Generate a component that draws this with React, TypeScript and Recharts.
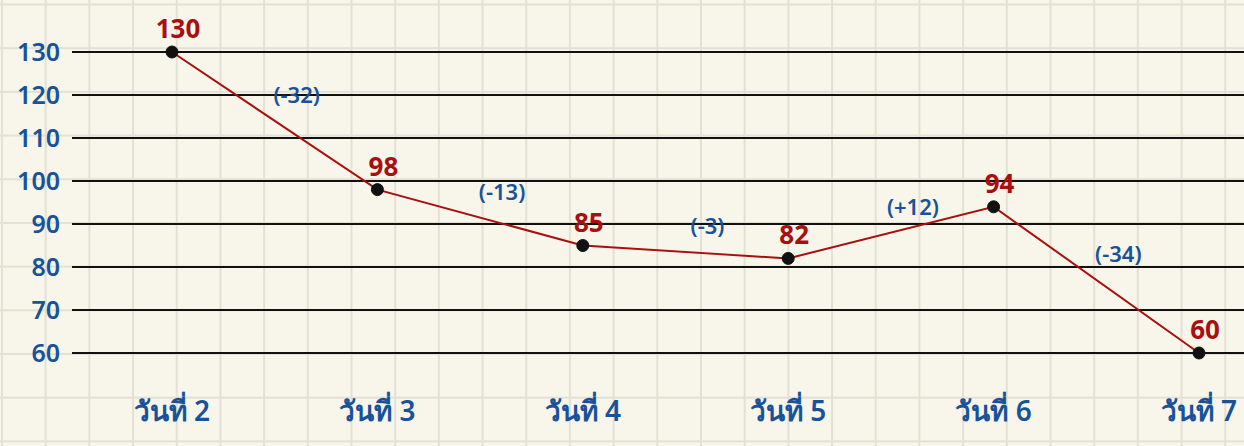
import React from 'react';
import { LineChart, Line, XAxis, YAxis, CartesianGrid, LabelList } from 'recharts';

const days = ['วันที่ 2', 'วันที่ 3', 'วันที่ 4', 'วันที่ 5', 'วันที่ 6', 'วันที่ 7'];
const counts = [130, 98, 85, 82, 94, 60];
const changes = ['', '(-32)', '(-13)', '(-3)', '(+12)', '(-34)'];
const yTicks = [60, 70, 80, 90, 100, 110, 120, 130];

const data = days.map((day, i) => ({ day, count: counts[i], change: changes[i] }));

const RED = '#a80f0f';
const BLUE = '#17529a';
const FONT = '"Noto Sans", "Open Sans", sans-serif';

// point positions are collected while the labels render, so each change label
// can sit between its point and the previous one
const pts: { x: number; y: number }[] = [];

const PointLabel = (props: any) => {
  const { x, y, value, index } = props;
  pts[index] = { x, y };
  const prev = index > 0 ? pts[index - 1] : null;
  const change = changes[index];
  return (
    <g>
      <text x={x + 6} y={y - 14} fill={RED} fontSize={26} fontWeight={700} textAnchor="middle" fontFamily={FONT}>
        {value}
      </text>
      {prev && change ? (
        <text
          x={(prev.x + x) / 2 + 22}
          y={(prev.y + y) / 2 - 18}
          fill={BLUE}
          fontSize={22}
          fontWeight={600}
          textAnchor="middle"
          fontFamily={FONT}
        >
          {change}
        </text>
      ) : null}
    </g>
  );
};

const gridBg = {
  backgroundColor: '#f8f6ea',
  backgroundImage:
    'linear-gradient(to right, #e3e1d3 2px, transparent 2px), linear-gradient(to bottom, #e3e1d3 2px, transparent 2px)',
  backgroundSize: '43.7px 43.7px',
  backgroundPosition: '1px 3.5px',
};

export default function App() {
  return (
    <div style={{ position: 'fixed', left: 0, top: 0, width: 1244, height: 446, ...gridBg }}>
      <LineChart width={1244} height={446} data={data} margin={{ top: 52, right: 0, bottom: 0, left: 0 }}>
        <CartesianGrid vertical={false} stroke="#111" strokeWidth={2} />
        <XAxis
          dataKey="day"
          height={93}
          axisLine={false}
          tickLine={false}
          tickMargin={42}
          padding={{ left: 100, right: 45 }}
          tick={{ fill: BLUE, fontSize: 28, fontWeight: 600, fontFamily: FONT }}
        />
        <YAxis
          width={72}
          domain={[60, 130]}
          ticks={yTicks}
          axisLine={false}
          tickLine={false}
          tickMargin={6}
          tick={{ fill: BLUE, fontSize: 25, fontWeight: 600, fontFamily: FONT }}
        />
        <Line
          type="linear"
          dataKey="count"
          stroke={RED}
          strokeWidth={2}
          dot={{ r: 6, fill: '#111', stroke: '#111', strokeWidth: 1 }}
          isAnimationActive={false}
        >
          <LabelList dataKey="count" content={<PointLabel />} />
        </Line>
      </LineChart>
    </div>
  );
}
